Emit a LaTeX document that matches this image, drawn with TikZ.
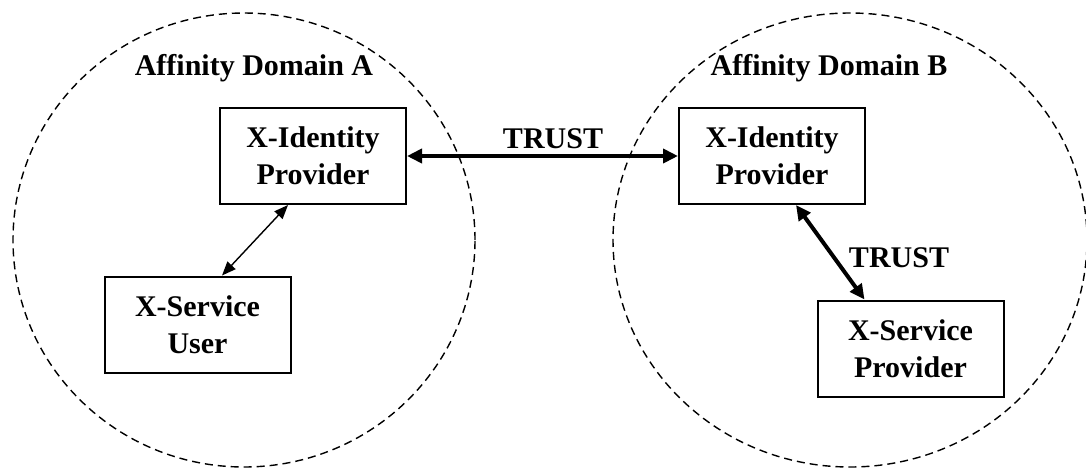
\documentclass[tikz,border=0pt]{standalone}
\usepackage{fontspec}
\setmainfont{Liberation Serif}
\usetikzlibrary{arrows.meta}
\tikzset{
  box/.style={draw, line width=1pt, minimum width=93pt, minimum height=48pt,
              inner sep=2pt, align=center, font=\fontsize{15}{18.5}\selectfont\bfseries},
  lbl/.style={font=\fontsize{15}{18.5}\selectfont\bfseries, inner sep=0pt, anchor=base},
  affinity/.style={dash pattern=on 4pt off 2.5pt, line width=0.7pt},
  flow/.style={{Triangle[length=7.5pt,width=7pt]}-{Triangle[length=7.5pt,width=7pt]}, line width=2pt},
  link/.style={{Triangle[length=7pt,width=5.5pt]}-{Triangle[length=7pt,width=5.5pt]}, line width=0.7pt},
}
\begin{document}
\begin{tikzpicture}[x=0.5pt,y=-0.5pt]
    \useasboundingbox (0,0) rectangle (1086,467);
    \clip (0,0) rectangle (1086,467);
    % --- the two domains ---
    \draw[affinity] (244,240) ellipse [x radius=115.5pt, y radius=113.5pt];
    \draw[affinity] (850,240) ellipse [x radius=118.5pt, y radius=113.5pt];
    \node[lbl] (nameA) at (254,75) {Affinity Domain A};
    \node[lbl] (nameB) at (829,75) {Affinity Domain B};
    % --- parties ---
    \node[box] (idpA) at (313,156) {X-Identity\\Provider};
    \node[box] (user) at (197.5,324.5) {X-Service\\User};
    \node[box] (idpB) at (772,156) {X-Identity\\Provider};
    \node[box] (prov) at (910.5,348.5) {X-Service\\Provider};
    % --- trust links ---
    \draw[flow] (idpA.east) -- (idpB.west);
    \node[lbl] (trustAB) at (553,148) {TRUST};
    \draw[link] ([xshift=-12.5pt]idpA.south) -- ([xshift=12.25pt]user.north);
    \draw[flow] ([xshift=12pt]idpB.south) -- ([xshift=-23pt]prov.north);
    \node[lbl] (trustB) at (899,267) {TRUST};
\end{tikzpicture}
\end{document}
